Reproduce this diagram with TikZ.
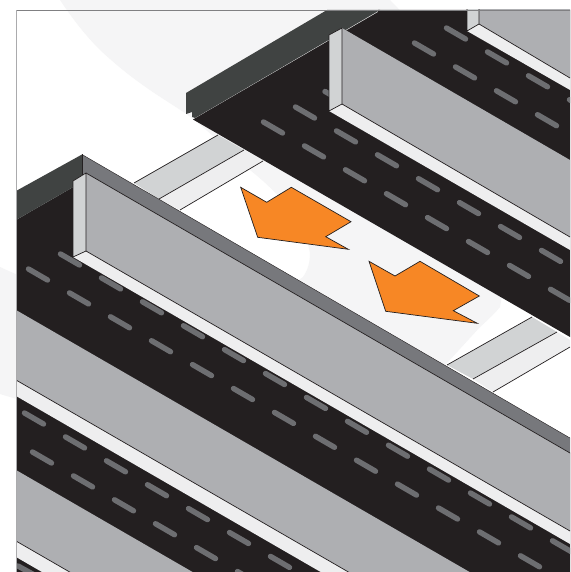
\documentclass[tikz,border=0pt]{standalone}
\definecolor{ink}{HTML}{231F20}
\definecolor{darkface}{HTML}{404342}
\definecolor{midwall}{HTML}{77787C}
\definecolor{panel}{HTML}{AEAFB2}
\definecolor{endface}{HTML}{D1D3D4}
\definecolor{pale}{HTML}{EEEEEF}
\definecolor{swoosh}{HTML}{F5F5F6}
\definecolor{dashc}{HTML}{6D6E71}
\definecolor{arrowc}{HTML}{F78725}
\definecolor{frametop}{HTML}{808082}
\definecolor{frameleft}{HTML}{ABABAD}
\tikzset{
  edge/.style={draw=ink,line width=0.7pt,line join=round},
  slot/.style={draw=dashc,line width=5.4pt,line cap=round},
  pointer/.style={fill=arrowc,draw=ink,line width=0.7pt,line join=miter},
}
\newcommand{\slotrow}[3]{%
  \foreach \k in {1,...,#3}{%
    \pgfmathsetmacro{\cx}{#1+12+41*(\k-1)}%
    \pgfmathsetmacro{\cy}{#2+6.5+23.9*(\k-1)}%
    \draw[slot] (\cx-9.5,\cy-5.5) -- (\cx+9.5,\cy+5.5);%
  }}
\begin{document}
\begin{tikzpicture}[x=1pt,y=-1pt]
\useasboundingbox (0,0) rectangle (570,572);
\fill[white] (0,0) rectangle (570,572);
% pale sweep behind the drawing
\fill[swoosh] (60,0) .. controls (72,18) and (85,35) .. (100,50)
  .. controls (113,62) and (126,73) .. (140,83)
  .. controls (155,94) and (170,103) .. (185,113)
  .. controls (208,130) and (228,150) .. (250,170)
  .. controls (285,198) and (305,225) .. (310,253)
  .. controls (310,262) and (308,270) .. (303,277)
  .. controls (230,330) and (90,310) .. (0,267)
  -- (0,394) .. controls (150,440) and (370,430) .. (447,363)
  -- (480,327) .. controls (490,318) and (495,313) .. (500,307)
  .. controls (520,200) and (470,80) .. (390,0) -- cycle;
\begin{scope}
\clip (17,10) rectangle (570,572);
% cross strips
\fill[endface] (134,183) -- (218,135) -- (244,150) -- (159,199) -- cycle;
\fill[pale] (159,199) -- (244,150) -- (263,161) -- (180,210) -- cycle;
\fill[endface] (447,365) -- (532,317) -- (557,332) -- (473,379) -- cycle;
\fill[pale] (473,379) -- (557,332) -- (570,340) -- (570,347) -- (493,392) -- cycle;
\draw[edge] (134,183) -- (218,135) (159,199) -- (244,150) (180,210) -- (263,161);
\draw[edge] (447,365) -- (532,317) (473,379) -- (557,332) (493,392) -- (570,347);
% arrows
\draw[pointer] (240.7,187.3) -- (266.7,202.3) -- (291.3,187.3) -- (351,221.7) -- (325.7,236.7) -- (348.3,249.3) -- (257.7,237.3) -- cycle;
\draw[pointer] (369,261.3) -- (395,276) -- (420,261.3) -- (479.3,296) -- (453.3,310.7) -- (477.3,323.3) -- (385.7,311.3) -- cycle;
% back deck
\fill[darkface] (186,93) -- (327,10) -- (380,10) -- (195,118) -- (192,117) -- (192,112) -- (186,114) -- cycle;
\fill[ink] (193,119.5) -- (378,12) -- (378,10) -- (570,10) -- (570,337) -- cycle;
\slotrow{293}{106}{7}
\slotrow{261}{121}{8}
\draw[slot] (325,91.5) -- (332,95.5);
\slotrow{444}{27}{4}
\slotrow{412}{42}{4}
% back wall 1
\fill[panel] (342,28) -- (570,160) -- (570,237) -- (342,104) -- cycle;
\fill[pale] (329,111) -- (342,104) -- (570,237) -- (570,250) -- cycle;
\fill[endface] (329,35) -- (342,28) -- (342,104) -- (329,111) -- cycle;
\draw[edge] (329,111) -- (329,35) -- (342,28) -- (342,104) -- cycle;
\draw[edge] (342,104) -- (570,237);
% back wall 2
\fill[panel] (479,0) -- (570,0) -- (570,78) -- (479,24) -- cycle;
\fill[pale] (467,31) -- (479,24) -- (570,78) -- (570,90) -- cycle;
\fill[endface] (467,0) -- (479,0) -- (479,24) -- (467,31) -- cycle;
\draw[edge] (467,0) -- (467,31) -- (479,24) -- (479,0);
\draw[edge] (479,24) -- (570,78);
% front deck
\fill[ink] (16,220) -- (82,182) -- (86,173) -- (570,453) -- (570,640) -- (16,640) -- cycle;
\fill[darkface] (16,191) -- (82,154.5) -- (82,182) -- (16,220) -- cycle;
\slotrow{58}{253}{13}
\slotrow{26}{268}{14}
\fill[panel] (16,310) -- (570,630) -- (570,700) -- (16,380) -- cycle;
\fill[pale] (16,380) -- (570,700) -- (570,716) -- (16,396) -- cycle;
\draw[edge] (16,380) -- (570,700);
\slotrow{22}{412}{14}
\slotrow{30}{451}{14}
\fill[panel] (16,470) -- (570,790) -- (570,861) -- (16,541) -- cycle;
\fill[pale] (16,541) -- (570,861) -- (570,877) -- (16,557) -- cycle;
\draw[edge] (16,541) -- (570,861);
\draw[slot] (18,566) -- (38,577);
% front wall
\fill[midwall] (82,154.5) -- (570,438) -- (570,453) -- (86,173) -- (82,175) -- cycle;
\fill[panel] (86,173) -- (570,453) -- (570,531) -- (86,251) -- cycle;
\fill[pale] (73,257) -- (86,251) -- (570,531) -- (570,544) -- cycle;
\fill[endface] (73,181) -- (86,173) -- (86,251) -- (73,257) -- cycle;
\draw[edge,line width=0.4pt] (82,154.5) -- (570,438);
\draw[edge] (82,154.5) -- (82,175);
\draw[edge] (73,257) -- (73,181) -- (86,173) -- (86,251) -- cycle;
\draw[edge] (86,173) -- (570,453);
\draw[edge] (86,251) -- (570,531);
\end{scope}
% frame
\draw[frametop,line width=0.9pt] (16,10.5) -- (570,10.5);
\draw[frameleft,line width=1.3pt] (16.5,10.5) -- (16.5,572);
\end{tikzpicture}
\end{document}
